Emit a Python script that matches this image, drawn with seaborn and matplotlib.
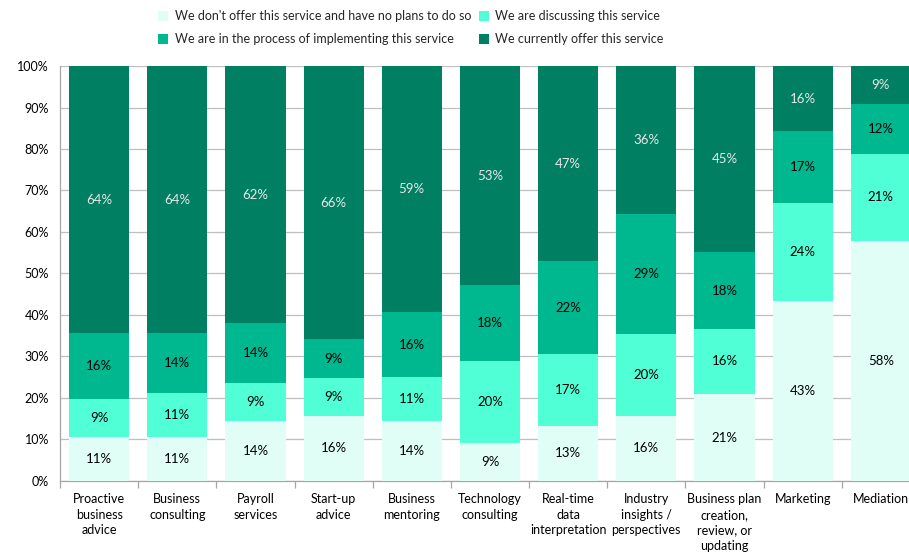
import numpy as np
import pandas as pd
import matplotlib
matplotlib.use("Agg")
import matplotlib.pyplot as plt
import seaborn as sns
from matplotlib.patches import Patch
from matplotlib.ticker import FixedLocator, PercentFormatter

# ---- data -------------------------------------------------------------
services = [
    "Proactive\nbusiness\nadvice",
    "Business\nconsulting",
    "Payroll\nservices",
    "Start-up\nadvice",
    "Business\nmentoring",
    "Technology\nconsulting",
    "Real-time\ndata\ninterpretation",
    "Industry\ninsights /\nperspectives",
    "Business plan\ncreation,\nreview, or\nupdating",
    "Marketing",
    "Mediation",
]

no_plans = [10.6, 10.6, 14.4, 15.7, 14.4, 9.2, 13.3, 15.7, 20.9, 43.4, 57.8]
discussing = [9.1, 10.6, 9.2, 9.2, 10.6, 19.6, 17.3, 19.8, 15.8, 23.7, 21.1]
implementing = [15.9, 14.4, 14.4, 9.2, 15.7, 18.4, 22.4, 28.9, 18.4, 17.2, 11.9]
offering = [64.4, 64.4, 62.0, 65.9, 59.3, 52.8, 47.0, 35.6, 44.9, 15.7, 9.2]

series_names = [
    "We don't offer this service and have no plans to do so",
    "We are discussing this service",
    "We are in the process of implementing this service",
    "We currently offer this service",
]
series_values = [no_plans, discussing, implementing, offering]
series_colors = ["#E0FEF5", "#50FFD5", "#00B890", "#007F63"]
label_colors = ["black", "black", "black", "#E8E8E8"]

# ---- figure -------------------------------------------------------------
sns.set_theme(style="white")
plt.rcParams["font.family"] = ["Lato", "DejaVu Sans"]

fig = plt.figure(figsize=(9.09, 5.57), dpi=100)
ax = fig.add_axes([0.066, 0.1365, 0.946, 0.745])

df = pd.DataFrame({name: vals for name, vals in zip(series_names, series_values)})
df["service"] = services
cum = df[series_names].cumsum(axis=1)
cum["service"] = services

# stacked bars: draw cumulative totals from the top series down
for name, color in reversed(list(zip(series_names, series_colors))):
    sns.barplot(data=cum, x="service", y=name, color=color, width=0.77,
                saturation=1, ax=ax, zorder=3, linewidth=0)

# value labels in the middle of each segment
bottoms = np.zeros(len(services))
for vals, tc in zip(series_values, label_colors):
    vals = np.asarray(vals)
    for i, (b, v) in enumerate(zip(bottoms, vals)):
        ax.text(i, b + v / 2, f"{v:.0f}%", ha="center", va="center",
                fontsize=9.5, color=tc, zorder=5)
    bottoms = bottoms + vals

# axes styling
ax.set_xlim(-0.5, len(services) - 0.5)
ax.set_ylim(0, 100)
ax.yaxis.set_major_locator(FixedLocator(np.arange(0, 101, 10)))
ax.yaxis.set_major_formatter(PercentFormatter(decimals=0))
ax.grid(axis="y", color="#BFBFBF", linewidth=0.9, zorder=0)
ax.set_axisbelow(True)
ax.set_xlabel("")
ax.set_ylabel("")

for side in ["top", "right"]:
    ax.spines[side].set_visible(False)
for side in ["left", "bottom"]:
    ax.spines[side].set_color("#A6A6A6")
    ax.spines[side].set_linewidth(0.9)

ax.tick_params(axis="y", length=0, labelsize=9, pad=8, labelcolor="black")
ax.xaxis.set_minor_locator(FixedLocator(np.arange(-0.5, len(services), 1)))
ax.tick_params(axis="x", which="major", length=0, labelsize=9, pad=9,
               labelcolor="black")
ax.tick_params(axis="x", which="minor", length=5, width=0.9,
               color="#A6A6A6", direction="out", bottom=True)
for lbl in ax.get_xticklabels():
    lbl.set_linespacing(1.35)
    lbl.set_verticalalignment("top")

# legend: two rows of two entries
handles = [Patch(facecolor=c, edgecolor="none") for c in series_colors]
order = [0, 2, 1, 3]
fig.legend([handles[i] for i in order], [series_names[i] for i in order],
           ncol=2, loc="center", bbox_to_anchor=(0.452, 0.95), frameon=False,
           fontsize=9, handlelength=0.8, handleheight=0.8, handletextpad=0.5,
           columnspacing=0.6, labelspacing=0.9)

fig.savefig("out.png", dpi=100)
